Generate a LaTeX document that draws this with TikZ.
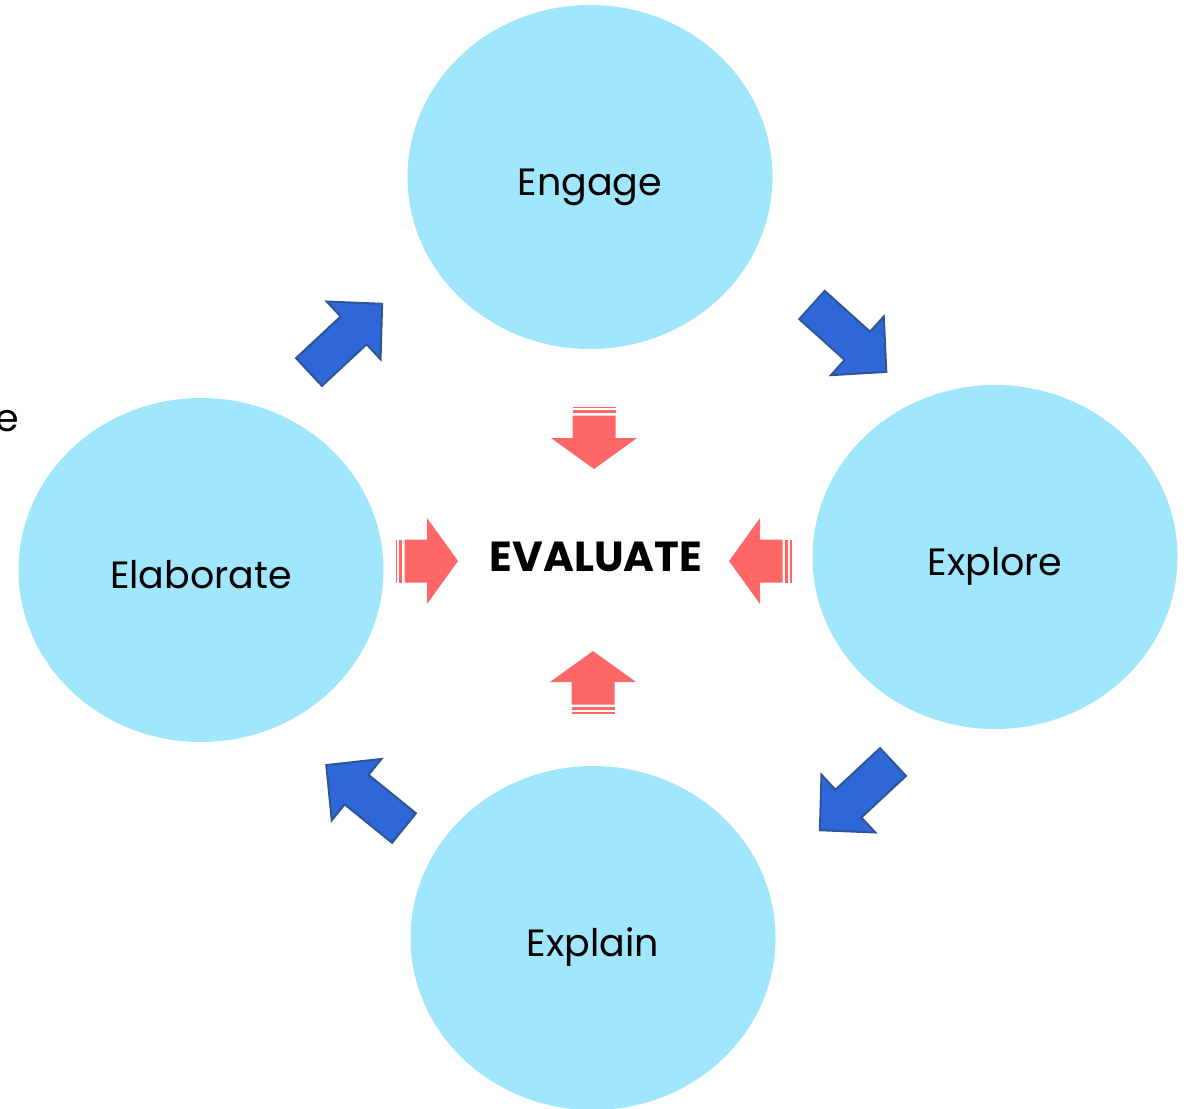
\documentclass[tikz,border=0pt]{standalone}
\usepackage{fontspec}
\setmainfont{Poppins}
\usetikzlibrary{shapes.geometric}
\definecolor{phasefill}{RGB}{160,230,252}
\definecolor{cyclefill}{RGB}{46,103,216}
\definecolor{cycledraw}{RGB}{47,85,151}
\definecolor{evalfill}{RGB}{255,102,102}
\tikzset{
  phase/.style={ellipse, fill=phasefill, inner sep=0pt, minimum width=182.5pt, minimum height=172pt, text height=18pt, text depth=0pt, font=\fontsize{19}{22}\selectfont},
  cyclearrow/.style={fill=cyclefill, draw=cycledraw, line width=1pt, line join=miter},
  evalarrow/.style={fill=evalfill}
}
\def\cyclearrow(#1)(#2){\begin{scope}[shift={(#1)}, rotate=#2]
  \draw[cyclearrow] (0,-19) -- (61,-19) -- (61,-39.5) -- (100,0) -- (61,39.5) -- (61,19) -- (0,19) -- cycle;
\end{scope}}
\def\evalarrow(#1)(#2){\begin{scope}[shift={(#1)}, rotate=#2]
  \fill[evalarrow] (0.5,-21.5) rectangle (2.2,21.5);
  \fill[evalarrow] (3.8,-21.5) rectangle (7.2,21.5);
  \fill[evalarrow] (9.5,-21.5) -- (32,-21.5) -- (32,-43) -- (63,0) -- (32,43) -- (32,21.5) -- (9.5,21.5) -- cycle;
\end{scope}}

\begin{document}
\begin{tikzpicture}[x=0.5pt, y=-0.5pt]
	%%%%% START %%%%%
	\useasboundingbox (0,0) rectangle (1186,1108);
	
	\node[phase] (engage) at (590,177) {Engage};
	\node[phase] (explore) at (995,557) {Explore};
	\node[phase] (explain) at (593,938) {Explain};
	\node[phase] (elaborate) at (201,570) {Elaborate};
	
	\node[font=\fontsize{21}{24}\selectfont\bfseries] (evaluate) at (596,557) {EVALUATE};
	\node[anchor=east, inner sep=0pt, font=\fontsize{19}{22}\selectfont] (cut) at (19,421) {e};
	
	\cyclearrow(309,372)(43)
	\cyclearrow(812,305)(-42)
	\cyclearrow(893,762)(-137)
	\cyclearrow(404,828)(141)
	
	\evalarrow(594,406)(-90)
	\evalarrow(395,561)(0)
	\evalarrow(792,561)(180)
	\evalarrow(593,714)(90)
	
	%%%%% END %%%%%
\end{tikzpicture}
\end{document}
